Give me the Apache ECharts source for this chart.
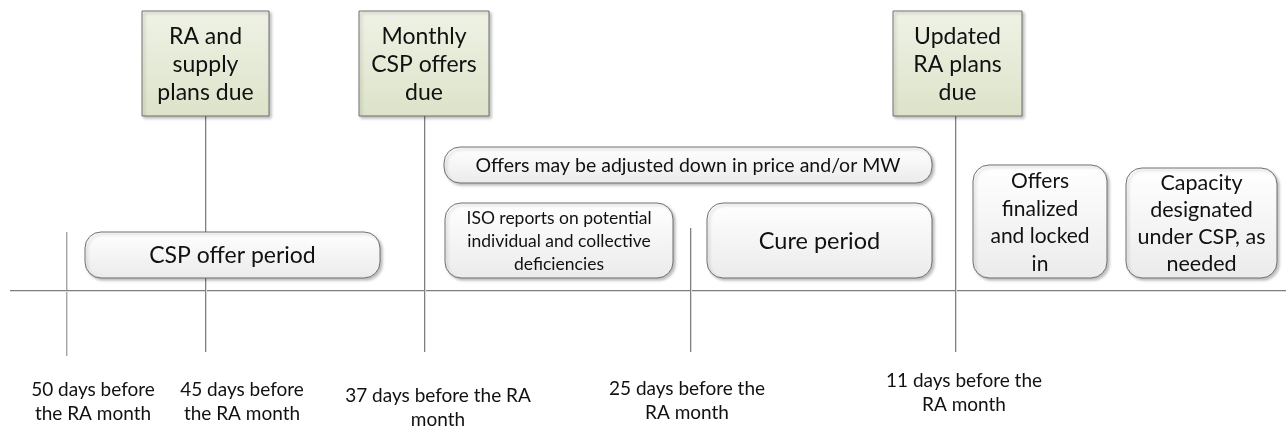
<!DOCTYPE html>
<html>
<head>
<meta charset="utf-8">
<script src="https://cdn.jsdelivr.net/npm/echarts@6/dist/echarts.min.js"></script>
<style>
  html, body { margin: 0; padding: 0; background: #fff; }
  #chart { width: 1286px; height: 430px; }
</style>
</head>
<body>
<div id="chart"></div>
<script>
// milestone boxes (green) - [x1, y1, x2, y2] in diagram units
const milestoneText = ['RA and\nsupply\nplans due', 'Monthly\nCSP offers\ndue', 'Updated\nRA plans\ndue']
const milestoneBox = [[142, 11, 269, 116], [359, 11, 489, 116], [893, 11, 1022, 116]]

// period boxes (rounded)
const periodText = [
  'CSP offer period',
  'Offers may be adjusted down in price and/or MW',
  'ISO reports on potential\nindividual and collective\ndeficiencies',
  'Cure period',
  'Offers\nfinalized\nand locked\nin',
  'Capacity\ndesignated\nunder CSP, as\nneeded'
]
const periodBox = [[85, 232, 380, 278], [444, 147, 932, 183], [445, 203, 673, 278], [707, 203, 932, 278], [973, 165, 1107, 278], [1126, 168, 1277, 278]]

// time markers: x, top, bottom
const markerX = [66, 205, 424, 690, 955]
const markerTop = [232, 116, 116, 228, 116]
const markerBottom = [356, 352, 352, 352, 352]

// bottom labels
const dayText = ['50 days before\nthe RA month', '45 days before\nthe RA month', '37 days before the RA\nmonth', '25 days before the\nRA month', '11 days before the\nRA month']
const dayLabelX = [93, 242, 438, 687, 964]
const dayLabelY = [402, 402, 408, 401, 393]

const timelineY = 290

// text sizes / line heights per period box
const periodFont = [23, 19.5, 17.5, 23.5, 21, 21.5]
const periodLine = [23, 20, 23, 24, 27.5, 27]

const FONT = 'Lato, "Open Sans", sans-serif'

const chart = echarts.init(document.getElementById('chart'))

function boxItem(params, api, box, txt, size, lh, green) {
  const p1 = api.coord([box[0], box[1]])
  const p2 = api.coord([box[2], box[3]])
  const w = p2[0] - p1[0]
  const h = p2[1] - p1[1]
  const r = green ? 0 : Math.min(16, h / 2)
  return {
    type: 'group',
    children: [{
      type: 'rect',
      shape: { x: p1[0], y: p1[1], width: w, height: h, r: r },
      style: {
        fill: green
          ? new echarts.graphic.LinearGradient(0, 0, 0, 1, [{ offset: 0, color: '#eff2e5' }, { offset: 1, color: '#dce3c9' }])
          : new echarts.graphic.LinearGradient(0, 0, 0, 1, [{ offset: 0, color: '#ffffff' }, { offset: 1, color: '#ebebeb' }]),
        stroke: '#707070',
        lineWidth: 1,
        shadowBlur: 3,
        shadowOffsetX: 2,
        shadowOffsetY: 2,
        shadowColor: 'rgba(0,0,0,0.25)'
      }
    }, {
      type: 'text',
      style: {
        text: txt,
        x: p1[0] + w / 2,
        y: p1[1] + h / 2 + 1,
        align: 'center',
        verticalAlign: 'middle',
        font: size + 'px ' + FONT,
        lineHeight: lh,
        fill: '#111'
      }
    }]
  }
}

chart.setOption({
  animation: false,
  grid: { left: 0, right: 0, top: 0, bottom: 0 },
  xAxis: { type: 'value', min: 0, max: 1286, show: false },
  yAxis: { type: 'value', min: 0, max: 430, inverse: true, show: false },
  series: [
    {
      // timeline and vertical markers
      type: 'custom',
      silent: true,
      z: 1,
      data: markerX.map((x, i) => [x, markerTop[i], markerBottom[i]]),
      renderItem(params, api) {
        const a = api.coord([api.value(0), api.value(1)])
        const b = api.coord([api.value(0), api.value(2)])
        const children = [{
          type: 'line',
          shape: { x1: Math.round(a[0]) + 1.5, y1: a[1], x2: Math.round(b[0]) + 1.5, y2: b[1] },
          style: { stroke: '#d9d9d9', lineWidth: 1 }
        }, {
          type: 'line',
          shape: { x1: Math.round(a[0]) + 0.5, y1: a[1], x2: Math.round(b[0]) + 0.5, y2: b[1] },
          style: { stroke: params.dataIndex === 0 ? '#a6a6a6' : '#7f7f7f', lineWidth: 1 }
        }]
        if (params.dataIndex === 0) {
          const l = api.coord([10, timelineY])
          const r = api.coord([1286, timelineY])
          children.push({
            type: 'line',
            shape: { x1: l[0], y1: Math.round(l[1]) + 1.5, x2: r[0], y2: Math.round(r[1]) + 1.5 },
            style: { stroke: '#dcdcdc', lineWidth: 1 }
          }, {
            type: 'line',
            shape: { x1: l[0], y1: Math.round(l[1]) + 0.5, x2: r[0], y2: Math.round(r[1]) + 0.5 },
            style: { stroke: '#7f7f7f', lineWidth: 1 }
          })
        }
        return { type: 'group', children }
      }
    },
    {
      // milestone boxes
      type: 'custom',
      silent: true,
      z: 3,
      data: milestoneBox.map((b, i) => [b[0], b[1], b[2], b[3], i]),
      renderItem(params, api) {
        const i = params.dataIndex
        return boxItem(params, api, milestoneBox[i], milestoneText[i], 23, 28, true)
      }
    },
    {
      // period boxes
      type: 'custom',
      silent: true,
      z: 3,
      data: periodBox.map((b, i) => [b[0], b[1], b[2], b[3], i]),
      renderItem(params, api) {
        const i = params.dataIndex
        return boxItem(params, api, periodBox[i], periodText[i], periodFont[i], periodLine[i], false)
      }
    },
    {
      // bottom day labels
      type: 'custom',
      silent: true,
      z: 3,
      data: dayLabelX.map((x, i) => [x, dayLabelY[i]]),
      renderItem(params, api) {
        const p = api.coord([api.value(0), api.value(1)])
        return {
          type: 'text',
          style: {
            text: dayText[params.dataIndex],
            x: p[0],
            y: p[1],
            align: 'center',
            verticalAlign: 'middle',
            font: '19px ' + FONT,
            lineHeight: 24,
            fill: '#111'
          }
        }
      }
    }
  ]
})
</script>
</body>
</html>
